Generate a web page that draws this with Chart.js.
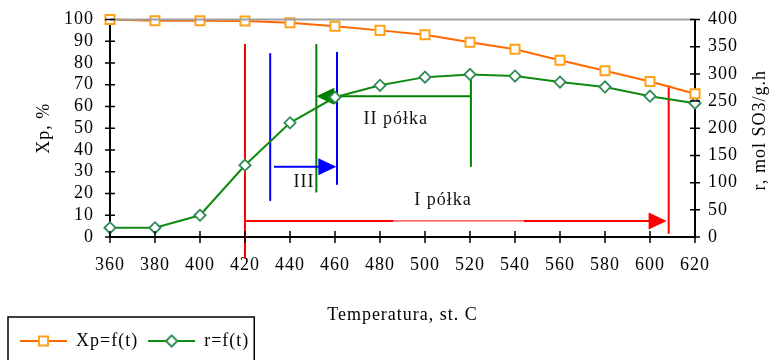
<!DOCTYPE html>
<html>
<head>
<meta charset="utf-8">
<script src="https://cdn.jsdelivr.net/npm/chart.js@4.4.0/dist/chart.umd.min.js"></script>
<style>
  html, body { margin: 0; padding: 0; background: #fff; }
</style>
</head>
<body>
<canvas id="chart" width="771" height="360"></canvas>
<script>
(function () {
    "use strict";

    // Temperatura, st. C
    var temps = [360, 380, 400, 420, 440, 460, 480, 500, 520, 540, 560, 580, 600, 620];
    // Xp, % (lewa oś)
    var xpValues = [100, 99.4, 99.4, 99.3, 98.5, 96.9, 95, 93, 89.5, 86.3, 81.3, 76.4, 71.5, 65.9];
    // r, mol SO3/g.h (prawa oś)
    var rValues = [17, 17, 40, 132, 210, 257, 279, 294, 299, 296, 285, 276, 259, 246];

    var seriesNames = ["Xp=f(t)", "r=f(t)"];

    // Granice półek: [temperatura, Xp od, Xp do]
    var redLimits = [[420, -10, 88.7], [608.3, 1.5, 69.7]];
    var blueLimits = [[431.2, 16.6, 84.5], [460.9, 24, 85.1]];
    var greenLimits = [[451.7, 20.5, 88.7], [520.4, 32.3, 74.8]];
    // Strzałki: [temperatura od, temperatura do, poziom Xp]
    var redArrow = [420, 607.4, 7.4];
    var redThin = [486, 544];
    var blueArrow = [432.9, 460.6, 32.3];
    var greenArrow = [520.4, 451.7, 64.7];
    // Podpisy półek: [tekst, temperatura, Xp]
    var shelfLabels = [["II półka", 487, 54], ["III", 446.2, 25], ["I półka", 508, 17.1]];

    var FONT = "'Liberation Serif', 'Times New Roman', serif";
    var font18 = { family: FONT, size: 18 };

    var orangeLine = "#ff6a00", orangeEdge = "#ffa21a";
    var greenLine = "#108a10", greenEdge = "#2e8b57";

    // ikony legendy: linia z markerem pośrodku
    function legendIcon(lineColor, edgeColor, style, radius) {
        var c = document.createElement("canvas");
        c.width = 47; c.height = 16;
        var g = c.getContext("2d");
        g.strokeStyle = lineColor; g.lineWidth = 2;
        g.beginPath(); g.moveTo(0, 8); g.lineTo(47, 8); g.stroke();
        g.fillStyle = "#fff"; g.strokeStyle = edgeColor; g.lineWidth = 2;
        Chart.helpers.drawPoint(g, { pointStyle: style, radius: radius, borderWidth: 2, rotation: 0 }, 23.5, 8);
        return c;
    }
    var legendIcons = [
        legendIcon(orangeLine, orangeEdge, "rect", 6.4),
        legendIcon(greenLine, greenEdge, "rectRot", 5.6)
    ];

    function arrowHead(ctx, tipX, y, dir, color) {
        ctx.fillStyle = color;
        ctx.beginPath();
        ctx.moveTo(tipX, y);
        ctx.lineTo(tipX - dir * 18, y - 8.5);
        ctx.lineTo(tipX - dir * 18, y + 8.5);
        ctx.closePath();
        ctx.fill();
    }

    function vLine(ctx, x, y0, y1, color) {
        ctx.strokeStyle = color; ctx.lineWidth = 2;
        ctx.beginPath(); ctx.moveTo(x, y0); ctx.lineTo(x, y1); ctx.stroke();
    }

    function hLine(ctx, x0, x1, y, color, w) {
        ctx.strokeStyle = color; ctx.lineWidth = w;
        ctx.beginPath(); ctx.moveTo(x0, y); ctx.lineTo(x1, y); ctx.stroke();
    }

    // osie pionowe bez dodatkowego marginesu na skrajne etykiety
    function fitVertical(width) {
        return function (s) {
            s.width = width;
            s.paddingTop = 0;
            s.paddingBottom = 0;
        };
    }

    var spacing = {
        id: "spacing",
        beforeLayout: function (chart) { chart.ctx.letterSpacing = "1px"; },
        beforeDraw: function (chart) { chart.ctx.letterSpacing = "1px"; }
    };

    // Półki (linie, strzałki, podpisy)
    var shelves = {
        id: "shelves",
        beforeDatasetsDraw: function (chart) {
            var ctx = chart.ctx, sx = chart.scales.x, sy = chart.scales.y;
            ctx.save();
            [[redLimits, "#ff0000"], [blueLimits, "#0000ff"], [greenLimits, "#008000"]].forEach(function (set) {
                set[0].forEach(function (l) {
                    vLine(ctx, sx.getPixelForValue(l[0]), sy.getPixelForValue(l[1]), sy.getPixelForValue(l[2]), set[1]);
                });
            });

            // I półka
            var ry = sy.getPixelForValue(redArrow[2]);
            var rx0 = sx.getPixelForValue(redArrow[0]), rx1 = sx.getPixelForValue(redArrow[1]);
            var t0 = sx.getPixelForValue(redThin[0]), t1 = sx.getPixelForValue(redThin[1]);
            hLine(ctx, rx0, t0, ry, "#ff0000", 2);
            hLine(ctx, t0, t1, ry, "#ff0000", 1);
            hLine(ctx, t1, rx1 - 10, ry, "#ff0000", 2);
            arrowHead(ctx, rx1, ry, 1, "#ff0000");

            // III
            var by = sy.getPixelForValue(blueArrow[2]);
            var bx1 = sx.getPixelForValue(blueArrow[1]);
            hLine(ctx, sx.getPixelForValue(blueArrow[0]), bx1 - 10, by, "#0000ff", 2);
            arrowHead(ctx, bx1, by, 1, "#0000ff");

            // II półka
            var gy = sy.getPixelForValue(greenArrow[2]);
            var gx1 = sx.getPixelForValue(greenArrow[1]);
            hLine(ctx, sx.getPixelForValue(greenArrow[0]), gx1 + 10, gy, "#008000", 2);
            arrowHead(ctx, gx1, gy, -1, "#008000");

            ctx.font = "18px " + FONT;
            ctx.fillStyle = "#111";
            ctx.textAlign = "center";
            ctx.textBaseline = "middle";
            shelfLabels.forEach(function (s) {
                ctx.fillText(s[0], sx.getPixelForValue(s[1]), sy.getPixelForValue(s[2]));
            });
            ctx.restore();
        },
        afterDraw: function (chart) {
            var ctx = chart.ctx, a = chart.chartArea;
            ctx.save();
            // górna krawędź obszaru wykresu
            hLine(ctx, a.left, a.right, a.top, "#a0a0a0", 2);

            // znaczniki podziałki przecinające osie
            ctx.strokeStyle = "#000"; ctx.lineWidth = 1.5;
            ctx.beginPath();
            chart.scales.x.ticks.forEach(function (t) {
                var px = chart.scales.x.getPixelForValue(t.value);
                ctx.moveTo(px, a.bottom - 6); ctx.lineTo(px, a.bottom + 6);
            });
            chart.scales.y.ticks.forEach(function (t) {
                var py = chart.scales.y.getPixelForValue(t.value);
                ctx.moveTo(a.left - 5, py); ctx.lineTo(a.left + 5, py);
            });
            chart.scales.y1.ticks.forEach(function (t) {
                var py = chart.scales.y1.getPixelForValue(t.value);
                ctx.moveTo(a.right - 5, py); ctx.lineTo(a.right + 5, py);
            });
            ctx.stroke();

            // tytuł prawej osi
            ctx.font = "18px " + FONT;
            ctx.fillStyle = "#000";
            ctx.textAlign = "center";
            ctx.textBaseline = "middle";
            ctx.translate(760, (a.top + a.bottom) / 2 + 2);
            ctx.rotate(-Math.PI / 2);
            ctx.fillText("r, mol SO3/g.h", 0, 0);
            ctx.restore();

            // ramka legendy
            var lg = chart.legend, hb = lg.legendHitBoxes;
            if (hb && hb.length) {
                var last = hb[hb.length - 1];
                ctx.save();
                ctx.strokeStyle = "#000"; ctx.lineWidth = 1.5;
                ctx.strokeRect(hb[0].left - 12, lg.top - 5, last.left + last.width + 17 - hb[0].left, 60);
                ctx.restore();
            }
        }
    };

    function pts(values) {
        return temps.map(function (t, i) { return { x: t, y: values[i] }; });
    }

    var ctx = document.getElementById("chart").getContext("2d");
    var myChart = new Chart(ctx, {
        type: "line",
        data: {
            datasets: [{
                label: seriesNames[0],
                data: pts(xpValues),
                yAxisID: "y",
                borderColor: orangeLine,
                borderWidth: 2,
                pointStyle: "rect",
                pointRadius: 6.4,
                pointBorderWidth: 2,
                pointBackgroundColor: "#fff",
                pointBorderColor: orangeEdge,
                clip: false,
                fill: false
            }, {
                label: seriesNames[1],
                data: pts(rValues),
                yAxisID: "y1",
                borderColor: greenLine,
                borderWidth: 2,
                pointStyle: "rectRot",
                pointRadius: 5.6,
                pointBorderWidth: 1.8,
                pointBackgroundColor: "#fff",
                pointBorderColor: greenEdge,
                clip: false,
                fill: false
            }]
        },
        options: {
            responsive: false,
            animation: false,
            layout: { padding: { left: 10, right: 1, top: 19.5, bottom: 0 } },
            plugins: {
                tooltip: { enabled: false },
                legend: {
                    position: "bottom",
                    align: "start",
                    labels: {
                        font: font18,
                        color: "#000",
                        padding: 10,
                        usePointStyle: true,
                        pointStyleWidth: 47,
                        generateLabels: function (chart) {
                            var items = Chart.defaults.plugins.legend.labels.generateLabels(chart);
                            items.forEach(function (it, i) { it.pointStyle = legendIcons[i]; });
                            return items;
                        }
                    }
                }
            },
            scales: {
                x: {
                    type: "linear",
                    position: "bottom",
                    min: 360,
                    max: 620,
                    ticks: {
                        stepSize: 20,
                        padding: 17,
                        color: "#000",
                        font: font18,
                        maxRotation: 0,
                        autoSkip: false,
                        callback: function (v) { return String(v); }
                    },
                    grid: { display: false, drawTicks: false },
                    border: { color: "#000", width: 2 },
                    title: {
                        display: true,
                        text: "Temperatura, st. C",
                        color: "#000",
                        font: font18,
                        padding: { top: 0, bottom: -4 }
                    },
                    afterFit: function (s) { s.height = 85; }
                },
                y: {
                    position: "left",
                    min: 0,
                    max: 100,
                    ticks: { stepSize: 10, padding: 16, color: "#000", font: font18, autoSkip: false },
                    grid: { display: false, drawTicks: false },
                    border: { color: "#000", width: 2 },
                    title: {
                        display: true,
                        text: "Xp, %",
                        color: "#000",
                        font: font18,
                        padding: { top: 23, bottom: 0 }
                    },
                    afterFit: fitVertical(100)
                },
                y1: {
                    position: "right",
                    min: 0,
                    max: 400,
                    ticks: { stepSize: 50, padding: 13, color: "#000", font: font18, autoSkip: false },
                    grid: { display: false, drawTicks: false },
                    border: { color: "#000", width: 2 },
                    afterFit: fitVertical(75)
                }
            }
        },
        plugins: [spacing, shelves]
    });
})();
</script>
</body>
</html>
